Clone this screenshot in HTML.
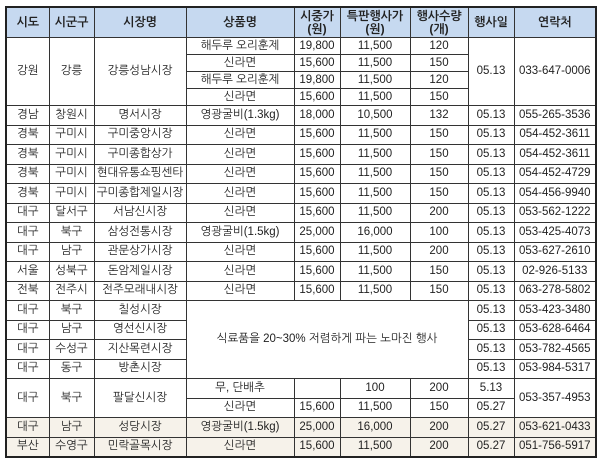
<!DOCTYPE html>
<html><head><meta charset="utf-8"><style>
html,body{margin:0;padding:0;background:#fff;width:600px;height:466px;overflow:hidden}
table{position:absolute;left:5px;top:6px;border-collapse:collapse;table-layout:fixed;border:2px solid #222;
font-family:"Liberation Sans","NanumGothic","Noto Sans CJK KR",sans-serif;font-size:11.5px;color:#222}
td,th{border:1px solid #333;padding:0;text-align:center;vertical-align:middle;white-space:nowrap;overflow:hidden;line-height:13px}
th{background:#c6d9f0;font-weight:bold;font-size:12px}
tr.a td{height:16px}
tr.b td{height:18.5px}
tr.h th{height:29px}
.bg td{background:#f6f2ea}
</style></head><body>
<table>
<colgroup><col style="width:43px"><col style="width:45px"><col style="width:92px"><col style="width:108px"><col style="width:46px"><col style="width:70px"><col style="width:58px"><col style="width:46px"><col style="width:82px"></colgroup>
<tr class="h"><th>시도</th><th>시군구</th><th>시장명</th><th>상품명</th><th>시중가<br>(원)</th><th>특판행사가<br>(원)</th><th>행사수량<br>(개)</th><th>행사일</th><th>연락처</th></tr>
<tr class="a"><td rowspan="4">강원</td><td rowspan="4">강릉</td><td rowspan="4">강릉성남시장</td><td>해두루 오리훈제</td><td>19,800</td><td>11,500</td><td>120</td><td rowspan="4">05.13</td><td rowspan="4">033-647-0006</td></tr>
<tr class="a"><td>신라면</td><td>15,600</td><td>11,500</td><td>150</td></tr>
<tr class="a"><td>해두루 오리훈제</td><td>19,800</td><td>11,500</td><td>120</td></tr>
<tr class="a"><td>신라면</td><td>15,600</td><td>11,500</td><td>150</td></tr>
<tr class="b"><td>경남</td><td>창원시</td><td>명서시장</td><td>영광굴비(1.3kg)</td><td>18,000</td><td>10,500</td><td>132</td><td>05.13</td><td>055-265-3536</td></tr>
<tr class="b"><td>경북</td><td>구미시</td><td>구미중앙시장</td><td>신라면</td><td>15,600</td><td>11,500</td><td>150</td><td>05.13</td><td>054-452-3611</td></tr>
<tr class="b"><td>경북</td><td>구미시</td><td>구미종합상가</td><td>신라면</td><td>15,600</td><td>11,500</td><td>150</td><td>05.13</td><td>054-452-3611</td></tr>
<tr class="b"><td>경북</td><td>구미시</td><td>현대유통쇼핑센타</td><td>신라면</td><td>15,600</td><td>11,500</td><td>150</td><td>05.13</td><td>054-452-4729</td></tr>
<tr class="b"><td>경북</td><td>구미시</td><td>구미종합제일시장</td><td>신라면</td><td>15,600</td><td>11,500</td><td>150</td><td>05.13</td><td>054-456-9940</td></tr>
<tr class="b"><td>대구</td><td>달서구</td><td>서남신시장</td><td>신라면</td><td>15,600</td><td>11,500</td><td>200</td><td>05.13</td><td>053-562-1222</td></tr>
<tr class="b"><td>대구</td><td>북구</td><td>삼성전통시장</td><td>영광굴비(1.5kg)</td><td>25,000</td><td>16,000</td><td>100</td><td>05.13</td><td>053-425-4073</td></tr>
<tr class="b"><td>대구</td><td>남구</td><td>관문상가시장</td><td>신라면</td><td>15,600</td><td>11,500</td><td>200</td><td>05.13</td><td>053-627-2610</td></tr>
<tr class="b"><td>서울</td><td>성북구</td><td>돈암제일시장</td><td>신라면</td><td>15,600</td><td>11,500</td><td>150</td><td>05.13</td><td>02-926-5133</td></tr>
<tr class="b"><td>전북</td><td>전주시</td><td>전주모래내시장</td><td>신라면</td><td>15,600</td><td>11,500</td><td>150</td><td>05.13</td><td>063-278-5802</td></tr>
<tr class="b"><td>대구</td><td>북구</td><td>칠성시장</td><td colspan="4" rowspan="4">식료품을 20~30% 저렴하게 파는 노마진 행사</td><td>05.13</td><td>053-423-3480</td></tr>
<tr class="b"><td>대구</td><td>남구</td><td>영선신시장</td><td>05.13</td><td>053-628-6464</td></tr>
<tr class="b"><td>대구</td><td>수성구</td><td>지산목련시장</td><td>05.13</td><td>053-782-4565</td></tr>
<tr class="b"><td>대구</td><td>동구</td><td>방촌시장</td><td>05.13</td><td>053-984-5317</td></tr>
<tr class="b"><td rowspan="2">대구</td><td rowspan="2">북구</td><td rowspan="2">팔달신시장</td><td>무, 단배추</td><td></td><td>100</td><td>200</td><td>5.13</td><td rowspan="2">053-357-4953</td></tr>
<tr class="b"><td>신라면</td><td>15,600</td><td>11,500</td><td>150</td><td>05.27</td></tr>
<tr class="b bg"><td>대구</td><td>남구</td><td>성당시장</td><td>영광굴비(1.5kg)</td><td>25,000</td><td>16,000</td><td>200</td><td>05.27</td><td>053-621-0433</td></tr>
<tr class="b bg"><td>부산</td><td>수영구</td><td>민락골목시장</td><td>신라면</td><td>15,600</td><td>11,500</td><td>200</td><td>05.27</td><td>051-756-5917</td></tr>
</table>
</body></html>
